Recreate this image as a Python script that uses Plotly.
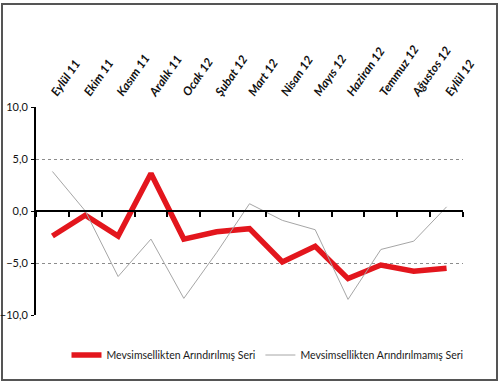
import plotly.graph_objects as go

months = ["Eylül 11", "Ekim 11", "Kasım 11", "Aralık 11", "Ocak 12", "Şubat 12", "Mart 12",
          "Nisan 12", "Mayıs 12", "Haziran 12", "Temmuz 12", "Ağustos 12", "Eylül 12"]
adjusted = [-2.4, -0.4, -2.4, 3.6, -2.7, -2.0, -1.7, -4.9, -3.4, -6.5, -5.2, -5.8, -5.5]
unadjusted = [3.8, 0.0, -6.3, -2.7, -8.4, -4.0, 0.7, -0.9, -1.8, -8.5, -3.7, -2.9, 0.4]
name_adj = "Mevsimsellikten Arındırılmış Seri"
name_unadj = "Mevsimsellikten Arındırılmamış Seri"
y_ticks = [-10, -5, 0, 5, 10]

FONT = "Lato"

fig = go.Figure()
fig.add_trace(go.Scatter(x=months, y=adjusted, name=name_adj, mode="lines",
                         line=dict(color="#e3161d", width=5.5)))
fig.add_trace(go.Scatter(x=months, y=unadjusted, name=name_unadj, mode="lines",
                         line=dict(color="#a6a6a6", width=1)))
# invisible helper trace for the zero-crossing category axis
fig.add_trace(go.Scatter(x=months, y=[0]*len(months), xaxis="x2", mode="lines",
                         line=dict(width=0), showlegend=False, hoverinfo="skip"))

fig.update_layout(
    width=500, height=384,
    margin=dict(l=36, r=37, t=107, b=69, autoexpand=False),
    paper_bgcolor="white", plot_bgcolor="white",
    separators=",.",
    font=dict(family=FONT, size=11, color="#1a1a1a"),
    showlegend=True,
    legend=dict(orientation="h", xref="container", yref="container",
                x=0.535, xanchor="center", y=(384-355)/384, yanchor="middle",
                font=dict(family=FONT, size=10.5, color="#1a1a1a"), itemwidth=30,
                traceorder="normal", entrywidth=0, tracegroupgap=0),
    xaxis=dict(type="category", categoryorder="array", categoryarray=months,
               side="top", tickangle=-55, showgrid=False, showline=False, ticks="",
               zeroline=False, range=[-0.5, 12.5],
               tickfont=dict(family=FONT, size=12, color="#111", weight="bold", style="italic"),
               ticklabelstandoff=4),
    xaxis2=dict(type="category", categoryorder="array", categoryarray=months,
                overlaying="x", anchor="free", position=0.5, side="bottom",
                range=[-0.5, 12.5], showticklabels=False, showgrid=False,
                showline=True, linecolor="black", linewidth=2,
                ticks="outside", tickson="boundaries", ticklen=5, tickwidth=1.5,
                tickcolor="black"),
    yaxis=dict(range=[-10, 10], tickvals=y_ticks, tickformat=".1f",
               showgrid=True, gridcolor="#8c8c8c", griddash="3px,3px", gridwidth=1,
               zeroline=False, showline=True, linecolor="black", linewidth=2,
               ticks="outside", ticklen=3, tickcolor="black", ticklabelstandoff=1,
               tickfont=dict(family=FONT, size=11, color="#111")),
    shapes=[dict(type="rect", xref="paper", yref="paper",
                 x0=(2-36)/427, x1=(497-36)/427, y0=(315-380)/208, y1=(315-4)/208,
                 line=dict(color="#555", width=2), fillcolor="rgba(0,0,0,0)", layer="below")],
)

fig.write_html("out.html", config={"displayModeBar": False},
               post_script="document.body.style.margin='0';document.body.style.overflow='hidden';")
